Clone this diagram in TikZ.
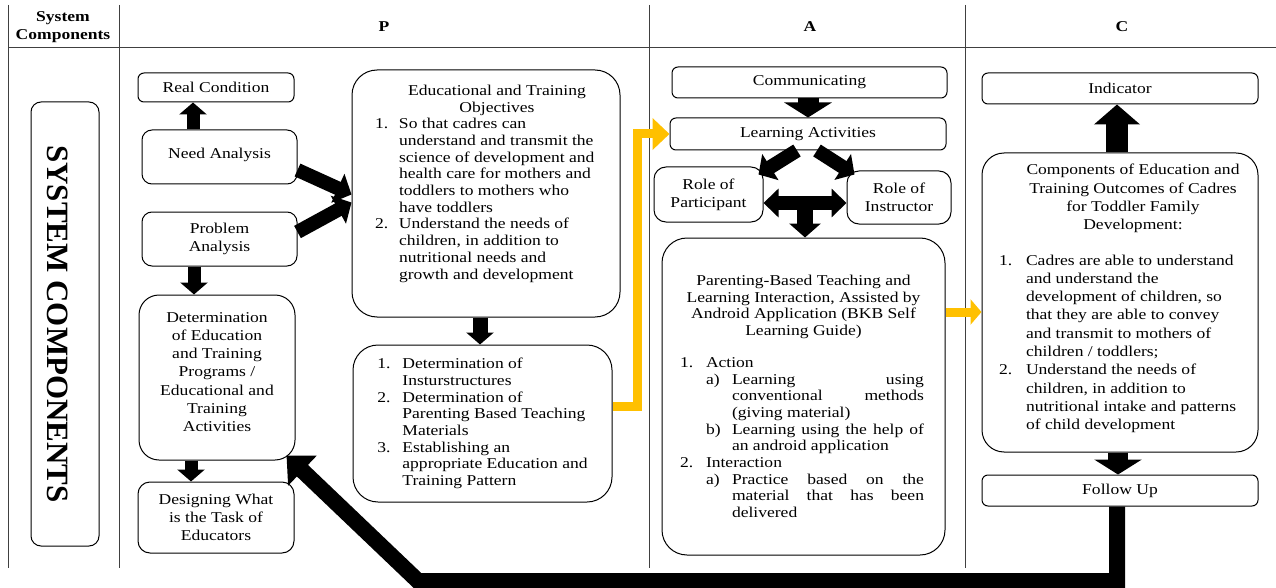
\documentclass[tikz,border=0pt]{standalone}
\usepackage{fontspec}
\setmainfont{Liberation Serif}[FakeStretch=1.17]
\newfontfamily\sysfont{Liberation Serif}
\usetikzlibrary{arrows.meta}
\definecolor{gold}{RGB}{255,192,0}
\newcommand{\numit}[2][24pt]{\makebox[#1][l]{#2}}
\newcommand{\contin}[1][24pt]{\hspace*{#1}}
\tikzset{
  box/.style={draw, line width=1pt, rounded corners=8pt, align=center, inner sep=2pt},
  bigbox/.style={box, rounded corners=22pt},
  tab/.style={line width=0.8pt, black!75},
  fat/.style={line width=13pt, -{Triangle[length=12pt,width=27pt]}},
  wide/.style={line width=21pt, -{Triangle[length=15pt,width=47pt]}},
  yel/.style={draw=gold, line width=9pt, -{Triangle[length=17pt,width=31pt]}},
  back/.style={line width=16pt, -{Triangle[length=22pt,width=40pt]}}
}

\begin{document}
\begin{tikzpicture}[x=1pt, y=-1pt, font=\fontsize{15}{18.3}\selectfont]
			\useasboundingbox (0,0) rectangle (1276,588);
			
			%%%%% TABLE %%%%%
			\draw[tab] (8,5) -- (8,568);
			\draw[tab] (119,5) -- (119,568);
			\draw[tab] (649,5) -- (649,568);
			\draw[tab] (965,5) -- (965,568);
			\draw[tab] (8,47) -- (1276,47);
			
			\node[align=center, font=\fontsize{15}{18}\selectfont\bfseries] (hsys) at (63,27) {System\\Components};
			\node[font=\fontsize{15}{18}\selectfont\bfseries] (hp) at (384,27) {P};
			\node[font=\fontsize{15}{18}\selectfont\bfseries] (ha) at (810,27) {A};
			\node[font=\fontsize{15}{18}\selectfont\bfseries] (hc) at (1122,27) {C};
			
			\node[box, rounded corners=10pt, rotate=-90, minimum width=444pt, minimum height=68pt,
			      font=\sysfont\fontsize{31}{31}\selectfont\bfseries] (sys) at (65,324) {SYSTEM COMPONENTS\rule{0pt}{36pt}};
			
			%%%%% P %%%%%
			\node[box, rounded corners=6pt, minimum width=156pt, minimum height=29pt] (real) at (216,87.5) {Real Condition};
			\node[box, rounded corners=10pt, minimum width=155pt, minimum height=54pt] (need) at (219.5,157) {Need Analysis\rule[-8pt]{0pt}{8pt}};
			\node[box, rounded corners=10pt, minimum width=155pt, minimum height=54pt] (prob) at (219.5,239) {Problem\\Analysis};
			\node[bigbox, rounded corners=20pt, minimum width=156pt, minimum height=165pt] (det) at (217,377.5)
			     {Determination\\of Education\\and Training\\Programs /\\Educational and\\Training\\Activities\rule[-11pt]{0pt}{11pt}};
			\node[box, rounded corners=12pt, minimum width=156pt, minimum height=71pt] (design) at (216,517.5)
			     {Designing What\\is the Task of\\Educators};
			
			\node[bigbox, rounded corners=25pt, align=left, font=\fontsize{15}{16.7}\selectfont,
			      minimum width=268pt, minimum height=247pt] (obj) at (486,193.5) {%
			  \makebox[222pt]{\hspace*{22pt}Educational and Training}\\
			  \makebox[222pt]{\hspace*{22pt}Objectives}\\
			  \numit{1.}So that cadres can\\
			  \contin understand and transmit the\\
			  \contin science of development and\\
			  \contin health care for mothers and\\
			  \contin toddlers to mothers who\\
			  \contin have toddlers\\
			  \numit{2.}Understand the needs of\\
			  \contin children, in addition to\\
			  \contin nutritional needs and\\
			  \contin growth and development\rule[-23pt]{0pt}{23pt}};
			
			\node[bigbox, rounded corners=25pt, align=left, font=\fontsize{15}{16.7}\selectfont,
			      minimum width=259pt, minimum height=157pt] (detl) at (482.5,423.5) {%
			  \numit[25pt]{1.}Determination of\\
			  \contin[25pt]Insturstructures\\
			  \numit[25pt]{2.}Determination of\\
			  \contin[25pt]Parenting Based Teaching\\
			  \contin[25pt]Materials\\
			  \numit[25pt]{3.}Establishing an\\
			  \contin[25pt]appropriate Education and\\
			  \contin[25pt]Training Pattern};
			
			\draw[fat] ([xshift=-26.5pt]need.north) -- ([xshift=-23pt]real.south);
			\draw[fat] ([xshift=-25.5pt]prob.south) -- ([xshift=-23pt]det.north);
			\draw[fat] ([xshift=-26pt]det.south) -- ([xshift=-25pt]design.north);
			\draw[fat, line width=14pt, -{Triangle[length=15pt,width=31pt]}] ([yshift=-13pt]need.east) -- ([yshift=-1pt]obj.west);
			\draw[fat, line width=14pt, -{Triangle[length=15pt,width=31pt]}] ([yshift=7pt]prob.east) -- ([yshift=-9pt]obj.west);
			\draw[fat, line width=15pt] ([xshift=-6pt]obj.south) -- ([xshift=-2.5pt]detl.north);
			
			%%%%% A %%%%%
			\node[box, rounded corners=6pt, minimum width=275pt, minimum height=31pt] (comm) at (809.5,82.5) {Communicating};
			\node[box, rounded corners=6pt, minimum width=276pt, minimum height=32pt] (learn) at (808,134) {Learning Activities};
			\node[box, rounded corners=12pt, minimum width=109pt, minimum height=55pt] (part) at (708.5,194.5) {Role of\\Participant};
			\node[box, rounded corners=12pt, minimum width=104pt, minimum height=53pt] (inst) at (899,197.5) {Role of\\Instructor};
			
			\node[bigbox, rounded corners=25pt, align=left, font=\fontsize{15}{16.7}\selectfont,
			      minimum width=283pt, minimum height=317pt] (pbt) at (803.5,396.5) {%
			  \makebox[247pt]{Parenting-Based Teaching and}\\
			  \makebox[247pt]{Learning Interaction, Assisted by}\\
			  \makebox[247pt]{Android Application (BKB Self}\\
			  \makebox[247pt]{Learning Guide)}\\[15pt]
			  \numit[26pt]{1.}Action\\
			  \contin[26pt]\numit[26pt]{a)}\makebox[192pt][s]{Learning using}\\
			  \contin[52pt]\makebox[192pt][s]{conventional methods}\\
			  \contin[52pt](giving material)\\
			  \contin[26pt]\numit[26pt]{b)}\makebox[192pt][s]{Learning using the help of}\\
			  \contin[52pt]an android application\\
			  \numit[26pt]{2.}Interaction\\
			  \contin[26pt]\numit[26pt]{a)}\makebox[192pt][s]{Practice based on the}\\
			  \contin[52pt]\makebox[192pt][s]{material that has been}\\
			  \contin[52pt]delivered};
			
			\draw[wide] ([xshift=-1.5pt]comm.south) -- (learn.north);
			\draw[fat, line width=14pt, -{Triangle[length=14pt,width=30pt]}] ([xshift=-11pt]learn.south) -- ([xshift=-5pt,yshift=-8pt]part.north east);
			\draw[fat, line width=14pt, -{Triangle[length=14pt,width=30pt]}] ([xshift=9pt]learn.south) -- ([xshift=8pt,yshift=-4pt]inst.north west);
			\draw[fat, line width=14pt, {Triangle[length=15pt,width=28pt]}-{Triangle[length=15pt,width=28pt]}]
			     ([yshift=-8.5pt]part.east) -- coordinate (mid) ([yshift=-5.5pt]inst.west);
			\draw[fat, line width=16pt, -{Triangle[length=14pt,width=31pt]}] (mid) -- (mid |- pbt.north);
			
			%%%%% C %%%%%
			\node[box, rounded corners=6pt, minimum width=276pt, minimum height=31pt] (ind) at (1120,88.5) {Indicator};
			\node[bigbox, align=left, minimum width=276pt, minimum height=299pt] (comp) at (1120,302.5) {%
			  \makebox[242pt]{\hspace*{26pt}Components of Education and}\\
			  \makebox[242pt]{\hspace*{26pt}Training Outcomes of Cadres}\\
			  \makebox[242pt]{\hspace*{26pt}for Toddler Family}\\
			  \makebox[242pt]{\hspace*{26pt}Development:}\\[17pt]
			  \numit[27pt]{1.}Cadres are able to understand\\
			  \contin[27pt]and understand the\\
			  \contin[27pt]development of children, so\\
			  \contin[27pt]that they are able to convey\\
			  \contin[27pt]and transmit to mothers of\\
			  \contin[27pt]children / toddlers;\\
			  \numit[27pt]{2.}Understand the needs of\\
			  \contin[27pt]children, in addition to\\
			  \contin[27pt]nutritional intake and patterns\\
			  \contin[27pt]of child development\rule[-11pt]{0pt}{11pt}};
			\node[box, rounded corners=6pt, minimum width=276pt, minimum height=31pt] (fu) at (1120,490.5) {Follow Up};
			
			\draw[wide, line width=22pt, -{Triangle[length=20pt,width=45pt]}] ([xshift=-3pt]comp.north) -- ([xshift=-3pt]ind.south);
			\draw[wide, line width=20pt] ([xshift=-2pt]comp.south) -- ([xshift=-2pt]fu.north);
			
			%%%%% YELLOW %%%%%
			\coordinate (ybend) at (637,134);
			\draw[yel] ([yshift=17.5pt]detl.east) -| (ybend) -- (learn.west);
			\draw[yel, -{Triangle[length=11pt,width=25pt]}] ([yshift=84.5pt]pbt.east) coordinate (ya) -- (ya -| comp.west);
			
			%%%%% BACK %%%%%
			\coordinate (turn) at (418,581);
			\draw[back] ([xshift=-3pt]fu.south) |- (turn) -- ([xshift=-9pt,yshift=5pt]det.south east);
			
		\end{tikzpicture}
\end{document}
